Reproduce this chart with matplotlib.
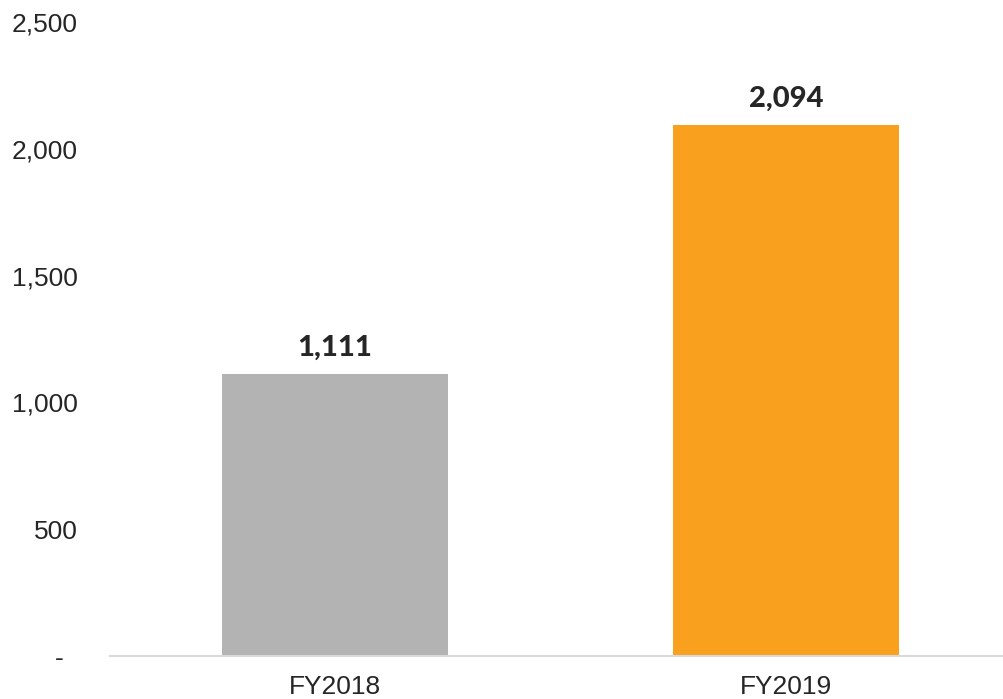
import matplotlib.pyplot as plt
from matplotlib.ticker import FuncFormatter

# Data
years = ["FY2018", "FY2019"]
values = [1111, 2094]
colors = ["#b3b3b3", "#f9a11f"]

fig = plt.figure(figsize=(10.04, 6.99), dpi=100)
ax = fig.add_axes([110 / 1004, 43 / 699, 894 / 1004, 634 / 699])

bars = ax.bar(range(len(years)), values, width=0.501, color=colors, zorder=2)
ax.set_xlim(-0.499, 1.483)
ax.set_ylim(0, 2500)
ax.set_yticks([0, 500, 1000, 1500, 2000, 2500])
ax.yaxis.set_major_formatter(FuncFormatter(lambda v, p: "-  " if v == 0 else f"{int(v):,}"))
ax.set_xticks(range(len(years)))
ax.set_xticklabels(years)

for lbl in ax.get_yticklabels() + ax.get_xticklabels():
    lbl.set_fontfamily("Liberation Sans")
    lbl.set_fontsize(19)
    lbl.set_color("#262626")
for lbl in ax.get_yticklabels():
    lbl.set_horizontalalignment("right")

ax.tick_params(axis="y", length=0, pad=23)
ax.tick_params(axis="x", length=0, pad=14)

for s in ["top", "right", "left"]:
    ax.spines[s].set_visible(False)
ax.spines["bottom"].set_color("#d9d9d9")
ax.spines["bottom"].set_linewidth(1.5)

for b, v in zip(bars, values):
    ax.annotate(f"{v:,}", (b.get_x() + b.get_width() / 2, v), xytext=(0, 13),
                textcoords="offset points", ha="center", va="baseline",
                fontsize=21, fontweight="black", family="Lato", color="#262626")

fig.savefig("out.png", dpi=100)
